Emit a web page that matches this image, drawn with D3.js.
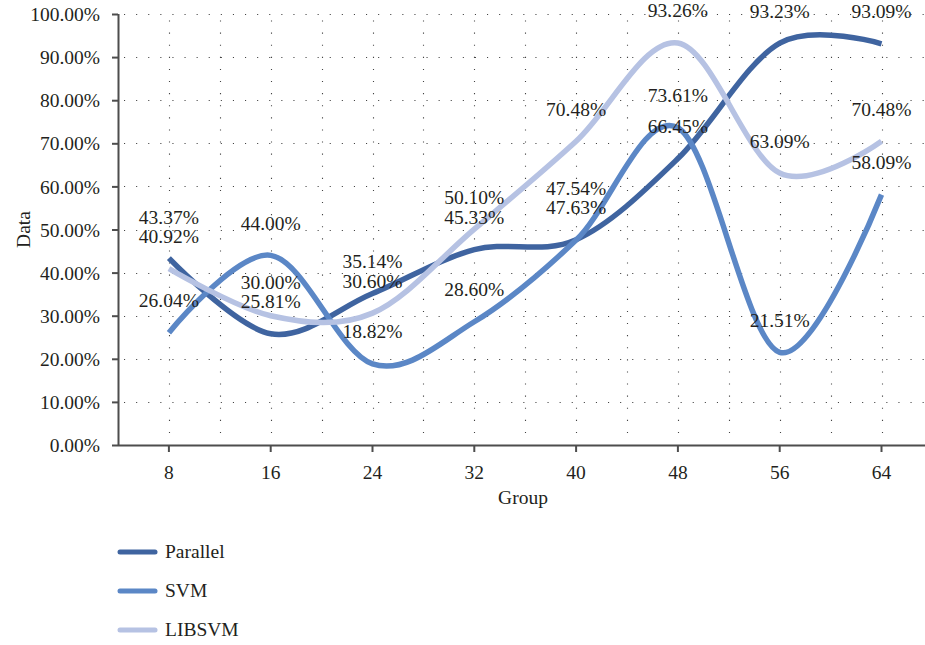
<!DOCTYPE html>
<html>
<head>
<meta charset="utf-8">
<script src="https://cdn.jsdelivr.net/npm/d3@7"></script>
<style>
  html, body { margin: 0; padding: 0; background: #fff; overflow: hidden; }
  svg { display: block; }
  text { font-family: "Liberation Serif", "DejaVu Serif", serif; fill: #231f20; }
</style>
</head>
<body>
<svg id="chart" width="925" height="645"></svg>
<script>
// Chart data
const groups = ["8", "16", "24", "32", "40", "48", "56", "64"];
const seriesNames = ["Parallel", "SVM", "LIBSVM"];
const parallelValues = [43.37, 25.81, 35.14, 45.33, 47.63, 66.45, 93.23, 93.09];
const svmValues      = [26.04, 44.00, 18.82, 28.60, 47.54, 73.61, 21.51, 58.09];
const libsvmValues   = [40.92, 30.00, 30.60, 50.10, 70.48, 93.26, 63.09, 70.48];
const yTicks = [0, 10, 20, 30, 40, 50, 60, 70, 80, 90, 100];

const seriesColors = ["#3f64a0", "#5b87c6", "#b6c2e3"];
const series = [
  { name: seriesNames[0], values: parallelValues, color: seriesColors[0] },
  { name: seriesNames[1], values: svmValues, color: seriesColors[1] },
  { name: seriesNames[2], values: libsvmValues, color: seriesColors[2] }
];

const fontSize = 19.5;
const svg = d3.select("#chart");
const plotLeft = 118, plotTop = 14, plotBottom = 445;
const step = 101.8;
const plotRight = plotLeft + step * groups.length;

const x = d3.scaleBand().domain(groups).range([plotLeft, plotRight]).paddingInner(0).paddingOuter(0);
const y = d3.scaleLinear().domain([0, 100]).range([plotBottom, plotTop]);
const cx = g => x(g) + x.bandwidth() / 2;

// Dotted grid: horizontal at every tick, vertical at category centres and band edges
const grid = svg.append("g").attr("stroke", "#444").attr("stroke-width", 1.1)
  .attr("stroke-dasharray", "1.1,11");
grid.selectAll("line.h").data(yTicks.filter(t => t > 0)).join("line")
  .attr("x1", plotLeft + 6).attr("x2", plotRight)
  .attr("y1", d => Math.round(y(d)) + 0.5).attr("y2", d => Math.round(y(d)) + 0.5);
const vx = [];
groups.forEach((g, i) => { vx.push(cx(g)); if (i > 0) vx.push(x(g)); });
grid.selectAll("line.v").data(vx).join("line")
  .attr("x1", d => Math.round(d) + 0.5).attr("x2", d => Math.round(d) + 0.5)
  .attr("y1", plotBottom - 12).attr("y2", plotTop);

// Axes
const yAxis = svg.append("g").attr("transform", `translate(${plotLeft},0)`)
  .call(d3.axisLeft(y).tickValues(yTicks).tickSize(6).tickPadding(12)
    .tickFormat(d => d.toFixed(2) + "%"));
const xAxis = svg.append("g").attr("transform", `translate(0,${plotBottom})`)
  .call(d3.axisBottom(x).tickSize(7).tickPadding(13));
[yAxis, xAxis].forEach(a => {
  a.select(".domain").attr("stroke", "#4d4d4d").attr("stroke-width", 2);
  a.selectAll(".tick line").attr("stroke", "#4d4d4d").attr("stroke-width", 2);
  a.selectAll("text").attr("font-size", fontSize).attr("fill", "#231f20")
    .style("font-family", '"Liberation Serif", serif');
});
yAxis.selectAll(".tick text").attr("dy", "0.34em");
yAxis.select(".domain").attr("d", `M0.5,${plotTop}V${plotBottom}`);
xAxis.select(".domain").attr("d", `M${plotLeft},0.5H${plotRight}`);

// Axis titles
svg.append("text").attr("transform", `translate(24,${(plotTop + plotBottom) / 2}) rotate(-90)`)
  .attr("text-anchor", "middle").attr("dy", "0.3em")
  .attr("font-size", fontSize).text("Data");
svg.append("text").attr("x", 523).attr("y", 498).attr("dy", "0.3em")
  .attr("text-anchor", "middle")
  .attr("font-size", fontSize).text("Group");

// Smoothed series lines
const line = d3.line()
  .x((d, i) => cx(groups[i]))
  .y(d => y(d))
  .curve(d3.curveCardinal.tension(0));
svg.append("g").selectAll("path").data(series).join("path")
  .attr("d", s => line(s.values))
  .attr("fill", "none")
  .attr("stroke", s => s.color)
  .attr("stroke-width", 5.5)
  .attr("stroke-linecap", "butt");

// Value labels above each point; labels in one group are pushed apart upward
const labelOffset = 32, minGap = 19;
const labels = [];
groups.forEach((g, i) => {
  const items = series.map(s => ({ v: s.values[i], x: cx(g), y: y(s.values[i]) - labelOffset }));
  const sorted = d3.sort(items, (a, b) => Math.round(b.y) - Math.round(a.y));
  let prev = Infinity;
  sorted.forEach(it => {
    it.ly = Math.min(it.y, prev - minGap);
    prev = it.ly;
    labels.push(it);
  });
});
svg.append("g").selectAll("text").data(labels).join("text")
  .attr("x", d => d.x).attr("y", d => d.ly).attr("dy", "0.33em")
  .attr("text-anchor", "middle")
  .attr("font-size", fontSize)
  .text(d => d.v.toFixed(2) + "%");

// Legend
const legend = svg.append("g").selectAll("g").data(series).join("g")
  .attr("transform", (d, i) => `translate(120,${552 + i * 39})`);
legend.append("line").attr("x1", 0).attr("x2", 35).attr("y1", 0).attr("y2", 0)
  .attr("stroke", d => d.color).attr("stroke-width", 5).attr("stroke-linecap", "round");
legend.append("text").attr("x", 45).attr("y", 0).attr("dy", "0.33em")
  .attr("font-size", fontSize).text(d => d.name);
</script>
</body>
</html>
